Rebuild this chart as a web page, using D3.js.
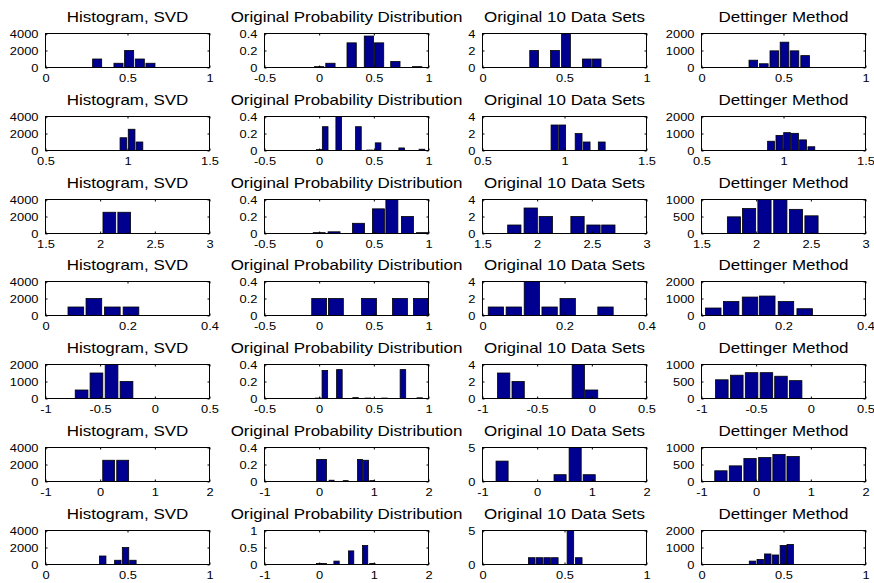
<!DOCTYPE html>
<html>
<head>
<meta charset="utf-8">
<script src="https://cdn.jsdelivr.net/npm/d3@7"></script>
<style>
  html, body { margin: 0; padding: 0; background: #fff; }
  svg { display: block; }
  text { font-family: "Liberation Sans", Arial, Helvetica, sans-serif; fill: #000; }
</style>
</head>
<body>
<svg id="chart" width="874" height="583"></svg>
<script>
// ---- data -------------------------------------------------------------
const titles = ["Histogram, SVD", "Original Probability Distribution", "Original 10 Data Sets", "Dettinger Method"];

// x range / ticks for each row (histogram columns)
const rowXDomains = [[0, 1], [0.5, 1.5], [1.5, 3], [0, 0.4], [-1, 0.5], [-1, 2], [0, 1]];
const rowXTicks = [[0, 0.5, 1], [0.5, 1, 1.5], [1.5, 2, 2.5, 3], [0, 0.2, 0.4], [-1, -0.5, 0, 0.5], [-1, 0, 1, 2], [0, 0.5, 1]];
// x range / ticks for the probability column
const probXDomains = [[-0.5, 1], [-0.5, 1], [-0.5, 1], [-0.5, 1], [-0.5, 1], [-1, 2], [-1, 2]];
const probXTicks = [[-0.5, 0, 0.5, 1], [-0.5, 0, 0.5, 1], [-0.5, 0, 0.5, 1], [-0.5, 0, 0.5, 1], [-0.5, 0, 0.5, 1], [-1, 0, 1, 2], [-1, 0, 1, 2]];

// Histogram, SVD
const svdCenters = [
  [0.315, 0.445, 0.51, 0.575, 0.64],
  [0.975, 1.025, 1.073],
  [2.084, 2.22],
  [0.074, 0.118, 0.163, 0.2085],
  [-0.67, -0.534, -0.396, -0.259],
  [0.156, 0.412],
  [0.349, 0.441, 0.488, 0.533]
];
const svdCounts = [
  [1000, 500, 2000, 1000, 500],
  [1500, 2500, 1000],
  [2500, 2500],
  [1000, 2000, 1000, 1000],
  [500, 1500, 2000, 1000],
  [2500, 2500],
  [1000, 500, 2000, 500]
];
const svdStep = [0.065, 0.048, 0.137, 0.045, 0.137, 0.256, 0.046];
const svdYTicks = [[0, 2000, 4000], [0, 2000, 4000], [0, 2000, 4000], [0, 2000, 4000], [0, 1000, 2000], [0, 2000, 4000], [0, 2000, 4000]];

// Original Probability Distribution
const probCenters = [
  [0.0, 0.103, 0.297, 0.455, 0.548, 0.697, 0.897],
  [0.0, 0.055, 0.179, 0.359, 0.462, 0.539, 0.755, 0.94],
  [0.0, 0.136, 0.36, 0.542, 0.665, 0.807, 0.945],
  [0.0, 0.153, 0.456, 0.739, 0.93],
  [-0.01, 0.052, 0.185, 0.333, 0.445, 0.597, 0.766, 0.92],
  [0.0, 0.088, 0.227, 0.485, 0.748, 0.858, 0.97],
  [0.0, 0.085, 0.318, 0.585, 0.84, 0.973]
];
const probValues = [
  [0.01, 0.05, 0.29, 0.37, 0.29, 0.07, 0.01],
  [0.01, 0.28, 0.4, 0.28, 0.005, 0.09, 0.03, 0.015],
  [0.01, 0.02, 0.12, 0.29, 0.4, 0.2, 0.01],
  [0.2, 0.2, 0.2, 0.2, 0.2],
  [0.005, 0.33, 0.34, 0.01, 0.005, 0.005, 0.34, 0.008],
  [0.26, 0.26, 0.015, 0.01, 0.26, 0.25, 0.01],
  [0.03, 0.03, 0.1, 0.4, 0.56, 0.03]
];
const probStep = [0.1, 0.061, 0.129, 0.16, 0.06, 0.107, 0.114];
const probYTicks = [[0, 0.2, 0.4], [0, 0.2, 0.4], [0, 0.2, 0.4], [0, 0.2, 0.4], [0, 0.2, 0.4], [0, 0.2, 0.4], [0, 0.5, 1]];

// Original 10 Data Sets
const dataCenters = [
  [0.315, 0.442, 0.509, 0.636, 0.696],
  [0.939, 0.986, 1.086, 1.135, 1.227],
  [1.791, 1.941, 2.079, 2.369, 2.515, 2.651],
  [0.0327, 0.0763, 0.1204, 0.1637, 0.2078, 0.3],
  [-0.806, -0.674, -0.124, -0.002],
  [-0.642, 0.419, 0.695, 0.952],
  [0.3, 0.347, 0.394, 0.441, 0.536, 0.587]
];
const dataCounts = [
  [2, 2, 4, 1, 1],
  [3, 3, 2, 1, 1],
  [1, 3, 2, 2, 1, 1],
  [1, 1, 4, 1, 2, 1],
  [3, 2, 4, 1],
  [3, 1, 5, 1],
  [1, 1, 1, 1, 5, 1]
];
const dataStep = [0.063, 0.049, 0.143, 0.044, 0.132, 0.26, 0.047];
const dataYTicks = [[0, 2, 4], [0, 2, 4], [0, 2, 4], [0, 2, 4], [0, 2, 4], [0, 5], [0, 5]];

// Dettinger Method
const dettCenters = [
  [0.316, 0.38, 0.444, 0.506, 0.567, 0.632],
  [0.924, 0.975, 1.022, 1.07, 1.119, 1.17],
  [1.797, 1.935, 2.076, 2.221, 2.364, 2.506],
  [0.0287, 0.0723, 0.1184, 0.1604, 0.206, 0.2517],
  [-0.814, -0.677, -0.542, -0.406, -0.273, -0.139],
  [-0.645, -0.379, -0.112, 0.158, 0.418, 0.676],
  [0.311, 0.358, 0.404, 0.451, 0.499, 0.541]
];
const dettCounts = [
  [430, 220, 980, 1490, 980, 700],
  [545, 890, 1050, 1010, 625, 220],
  [490, 735, 1000, 1000, 710, 520],
  [440, 820, 1085, 1145, 820, 400],
  [550, 685, 760, 760, 655, 525],
  [315, 460, 675, 705, 795, 735],
  [200, 300, 620, 560, 1120, 1180]
];
const dettStep = [0.062, 0.049, 0.142, 0.0445, 0.135, 0.265, 0.046];
const dettYTicks = [[0, 1000, 2000], [0, 1000, 2000], [0, 500, 1000], [0, 1000, 2000], [0, 500, 1000], [0, 500, 1000], [0, 1000, 2000]];

// ---- layout -----------------------------------------------------------
const columns = [
  { centers: svdCenters,  values: svdCounts,  steps: svdStep,  xDomains: rowXDomains,  xTicks: rowXTicks,  yTicks: svdYTicks },
  { centers: probCenters, values: probValues, steps: probStep, xDomains: probXDomains, xTicks: probXTicks, yTicks: probYTicks },
  { centers: dataCenters, values: dataCounts, steps: dataStep, xDomains: rowXDomains,  xTicks: rowXTicks,  yTicks: dataYTicks },
  { centers: dettCenters, values: dettCounts, steps: dettStep, xDomains: rowXDomains,  xTicks: rowXTicks,  yTicks: dettYTicks }
];

const plotW = 164, plotH = 34;
const colX = c => Math.round(45 + c * 218.6) + 0.5;
const rowY = r => Math.round(33 + r * 82.75) + 0.5;
const stretch = 1.17;      // wide glyph proportions of the axis lettering
const barFrac = 0.85;      // bar width as a fraction of the bin step
const fmt = v => String(v);

const svg = d3.select("#chart");

columns.forEach((col, c) => {
  for (let r = 0; r < 7; r++) {
    const g = svg.append("g").attr("transform", `translate(${colX(c)},${rowY(r)})`);
    const x = d3.scaleLinear().domain(col.xDomains[r]).range([0, plotW]);
    const yT = col.yTicks[r];
    const y = d3.scaleLinear().domain([0, yT[yT.length - 1]]).range([plotH, 0]);

    const clipId = `clip-${c}-${r}`;
    g.append("clipPath").attr("id", clipId)
      .append("rect").attr("width", plotW).attr("height", plotH);

    g.append("rect").attr("width", plotW).attr("height", plotH).attr("fill", "#fff");

    const half = col.steps[r] * barFrac / 2;
    g.append("g").attr("clip-path", `url(#${clipId})`)
      .selectAll("rect")
      .data(d3.zip(col.centers[r], col.values[r]))
      .join("rect")
      .attr("x", d => x(d[0] - half))
      .attr("width", d => x(d[0] + half) - x(d[0] - half))
      .attr("y", d => y(d[1]))
      .attr("height", d => y(0) - y(d[1]))
      .attr("fill", "#000090")
      .attr("stroke", "#000")
      .attr("stroke-width", 0.8);

    // bottom axis with labels, inward ticks
    const bx = g.append("g").attr("transform", `translate(0,${plotH})`)
      .call(d3.axisBottom(x).tickValues(col.xTicks[r]).tickFormat(fmt)
        .tickSizeInner(-2).tickSizeOuter(0).tickPadding(7));
    // left axis with labels
    const ly = g.append("g")
      .call(d3.axisLeft(y).tickValues(yT).tickFormat(fmt)
        .tickSizeInner(-2).tickSizeOuter(0).tickPadding(6));
    // mirrored ticks on top and right
    const tx = g.append("g")
      .call(d3.axisTop(x).tickValues(col.xTicks[r]).tickFormat(() => "")
        .tickSizeInner(-2).tickSizeOuter(0));
    const ry = g.append("g").attr("transform", `translate(${plotW},0)`)
      .call(d3.axisRight(y).tickValues(yT).tickFormat(() => "")
        .tickSizeInner(-2).tickSizeOuter(0));

    [bx, ly, tx, ry].forEach(a => {
      a.select(".domain").remove();
      a.selectAll("line").attr("stroke", "#000");
      a.selectAll("text").style("font-size", "11px")
        .attr("transform", `scale(${stretch},1)`);
    });

    // frame
    g.append("rect").attr("width", plotW).attr("height", plotH)
      .attr("fill", "none").attr("stroke", "#000").attr("stroke-width", 1);

    // title
    g.append("g").attr("transform", `translate(${plotW / 2},-12) scale(${stretch},1)`)
      .append("text")
      .attr("text-anchor", "middle")
      .style("font-size", "14.5px")
      .text(titles[c]);
  }
});
</script>
</body>
</html>
